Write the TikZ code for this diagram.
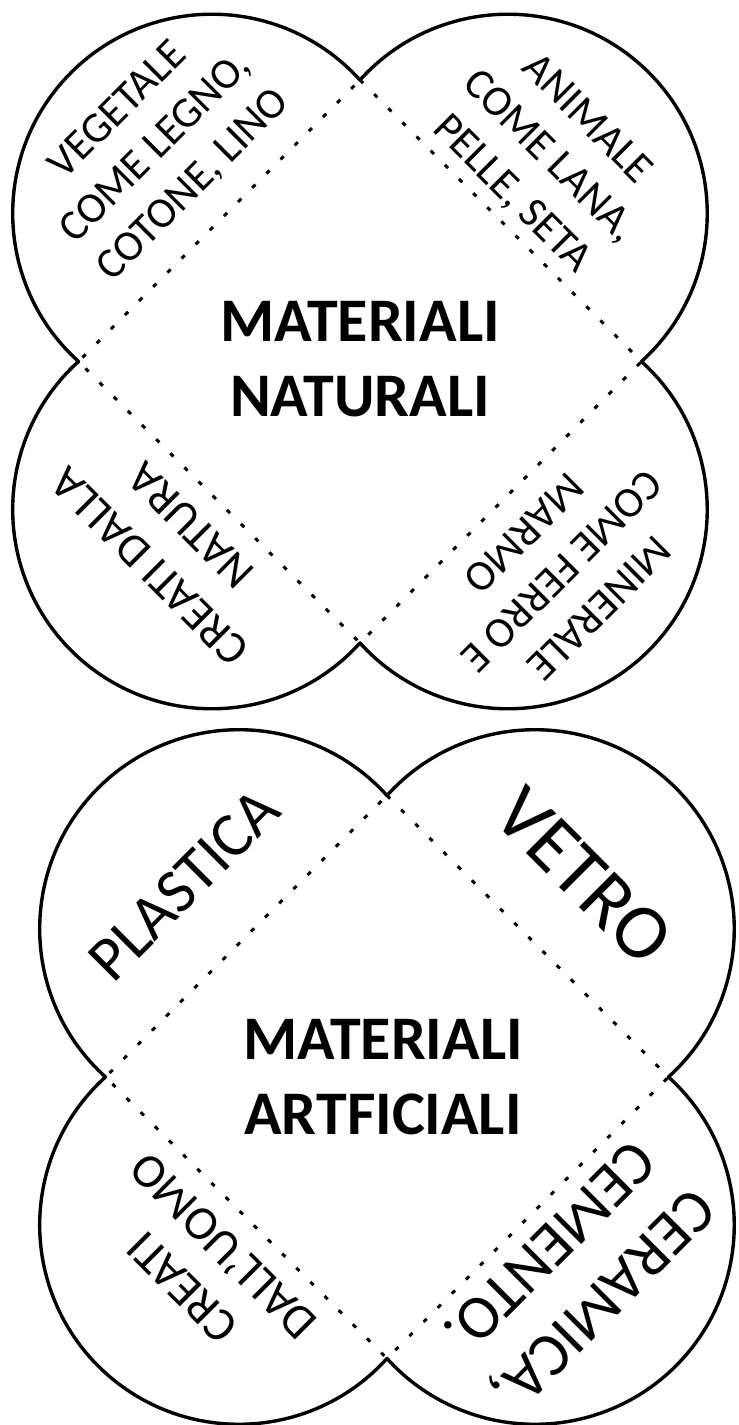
\documentclass[tikz,border=0pt]{standalone}
\usepackage{fontspec}
\setmainfont{Carlito}
\begin{document}
\begin{tikzpicture}[x=1pt,y=1pt,
  outline/.style={line width=3.4pt, line join=round},
  fold/.style={line width=3pt, dash pattern=on 4.5pt off 15.5pt},
  lobe/.style={align=center, inner sep=0pt},
  smalltxt/.style={lobe, font=\fontsize{43}{53}\selectfont},
  title/.style={lobe, font=\fontsize{62}{75}\selectfont\bfseries}]
\fill[white] (0,0) rectangle (739,1425);
\useasboundingbox (0,0) rectangle (739,1425);
% top fortune teller
\begin{scope}[shift={(360,1063.5)}]
  \draw[outline] (-281.5,0)
    arc[start angle=227.95, end angle=42.05, radius=199.3pt]
    arc[start angle=137.95, end angle=-47.95, radius=199.3pt]
    arc[start angle=47.95, end angle=-137.95, radius=199.3pt]
    arc[start angle=-42.05, end angle=-227.95, radius=199.3pt] -- cycle;
  \draw[fold] (0,281.5) -- (281.5,0) -- (0,-281.5) -- (-281.5,0) -- cycle;
\end{scope}
% bottom fortune teller
\begin{scope}[shift={(387,348)}]
  \draw[outline] (-281.5,0)
    arc[start angle=227.95, end angle=42.05, radius=199.3pt]
    arc[start angle=137.95, end angle=-47.95, radius=199.3pt]
    arc[start angle=47.95, end angle=-137.95, radius=199.3pt]
    arc[start angle=-42.05, end angle=-227.95, radius=199.3pt] -- cycle;
  \draw[fold] (0,281.5) -- (281.5,0) -- (0,-281.5) -- (-281.5,0) -- cycle;
\end{scope}
% texts top
\node[smalltxt, rotate=45] (veg) at (156,1277) {VEGETALE\\COME LEGNO,\\COTONE, LINO};
\node[smalltxt, rotate=-45] (ani) at (549,1268) {ANIMALE\\COME LANA,\\PELLE, SETA};
\node[smalltxt, rotate=135, font=\fontsize{46}{58}\selectfont] (nat) at (170,879) {CREATI DALLA\\NATURA};
\node[smalltxt, rotate=-135] (min) at (562,854) {MINERALE\\COME FERRO E\\MARMO};
\node[title] (tnat) at (360,1066) {MATERIALI\\NATURALI};
% texts bottom
\node[lobe, rotate=45, font=\fontsize{63}{76}\selectfont] (pla) at (184,540) {PLASTICA};
\node[lobe, rotate=-45, font=\fontsize{78}{94}\selectfont] (vet) at (584,549) {VETRO};
\node[title] (tart) at (383,348) {MATERIALI\\ARTFICIALI};
\node[lobe, rotate=135, font=\fontsize{48}{58}\selectfont] (uomo) at (203,158) {CREATI\\DALL’UOMO};
\node[lobe, rotate=-135, font=\fontsize{62}{76}\selectfont] (cer) at (577,151) {CERAMICA,\\CEMENTO.};
\end{tikzpicture}
\end{document}
